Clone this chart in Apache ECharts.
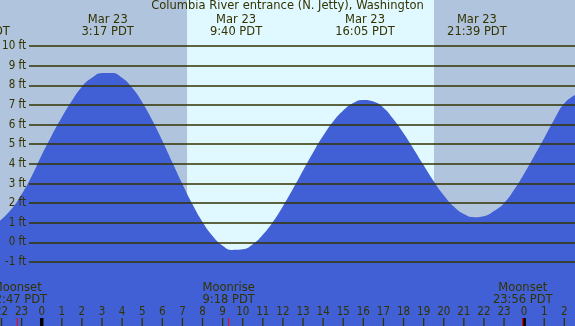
<!DOCTYPE html>
<html><head><meta charset="utf-8">
<script src="https://cdn.jsdelivr.net/npm/echarts@6/dist/echarts.min.js"></script>
<style>html,body{margin:0;padding:0;background:#b0c4de;overflow:hidden}#c{width:575px;height:326px}</style>
</head><body><div id="c"></div>
<script>
// ---- data ----
const titleText = 'Columbia River entrance (N. Jetty), Washington';
// hours relative to Mar 23 00:00 PDT, water level in ft
const tideHours = [-2.075,-1.5,-1.0,-0.5,0.0,0.5,1.0,1.5,2.0,2.5,3.0,3.5,4.0,4.5,5.0,5.5,6.0,6.5,7.0,7.5,8.0,8.5,9.0,9.5,10.0,10.5,11.0,11.5,12.0,12.5,13.0,13.5,14.0,14.5,15.0,15.5,16.0,16.5,17.0,17.5,18.0,18.5,19.0,19.5,20.0,20.5,21.0,21.5,22.0,22.5,23.0,23.5,24.0,24.5,25.0,25.5,26.0,26.53];
const tideFeet  = [1.10,1.70,2.45,3.37,4.45,5.45,6.37,7.21,7.93,8.38,8.62,8.63,8.38,7.87,7.14,6.22,5.18,4.07,2.97,1.94,1.04,0.33,-0.16,-0.38,-0.35,-0.09,0.39,1.04,1.84,2.73,3.66,4.58,5.43,6.16,6.72,7.10,7.25,7.17,6.86,6.27,5.56,4.76,3.93,3.12,2.41,1.83,1.45,1.29,1.34,1.60,2.00,2.68,3.50,4.40,5.32,6.26,7.08,7.50];
const extremeTimes  = [-3.07, 3.283, 9.667, 16.083, 21.65];
const extremeDates  = ['Mar 22','Mar 23','Mar 23','Mar 23','Mar 23'];
const extremeLabels = ['20:56 PDT','3:17 PDT','9:40 PDT','16:05 PDT','21:39 PDT'];
const ftLevels = [-1,0,1,2,3,4,5,6,7,8,9,10];
const ftLabels = ['-1 ft','0 ft','1 ft','2 ft','3 ft','4 ft','5 ft','6 ft','7 ft','8 ft','9 ft','10 ft'];
const hourTicks  = [-2,-1,0,1,2,3,4,5,6,7,8,9,10,11,12,13,14,15,16,17,18,19,20,21,22,23,24,25,26];
const hourLabels = ['22','23','0','1','2','3','4','5','6','7','8','9','10','11','12','13','14','15','16','17','18','19','20','21','22','23','0','1','2'];
const midnightHours = [0, 24];
const moonTimes  = [-1.217, 9.3, 23.933];
const moonEvents = ['Moonset','Moonrise','Moonset'];
const moonLabels = ['22:47 PDT','9:18 PDT','23:56 PDT'];
const sunriseHour = 7.23, sunsetHour = 19.52;

// ---- layout / style ----
const xMin = -2.075, xMax = 26.53, yMin = -4.25, yMax = 12.34;
const lineStartHour = -0.63;
const ink = '#333300';
const night = '#b0c4de', day = '#e0f8ff', water = '#4160d5';
const reg = '"DejaVu Sans", sans-serif';
const cond = '"DejaVu Sans Condensed", "DejaVu Sans", sans-serif';

const chart = echarts.init(document.getElementById('c'));
chart.setOption({
  animation:false,
  backgroundColor: night,
  title:{text:titleText,left:'center',top:0,padding:0,
    textStyle:{fontSize:11.5,fontWeight:'normal',color:ink,fontFamily:reg}},
  grid:{left:0,right:0,top:0,bottom:0,containLabel:false,outerBoundsMode:'none'},
  xAxis:{type:'value',min:xMin,max:xMax,show:false},
  yAxis:{type:'value',min:yMin,max:yMax,show:false},
  series:[{
    type:'line',z:2,smooth:true,showSymbol:false,
    data:tideHours.map((h,i)=>[h,tideFeet[i]]),
    lineStyle:{width:0},
    areaStyle:{color:water,opacity:1,origin:'start'},
    markArea:{silent:true,z:1,data:[
      [{xAxis:xMin,itemStyle:{color:night}},{xAxis:sunriseHour}],
      [{xAxis:sunriseHour,itemStyle:{color:day}},{xAxis:sunsetHour}],
      [{xAxis:sunsetHour,itemStyle:{color:night}},{xAxis:xMax}]
    ]},
    markLine:{silent:true,z:5,symbol:'none',
      lineStyle:{color:ink,width:1.5,type:'solid'},
      label:{show:true,position:'start',distance:3,color:ink,fontSize:11.5,fontFamily:cond,formatter:p=>p.name},
      data:ftLevels.map((v,i)=>[{coord:[lineStartHour,v],name:ftLabels[i]},{coord:[xMax,v]}])
    }
  }]
});

const px = h => chart.convertToPixel({xAxisIndex:0}, h);
const g = [];
extremeTimes.forEach((t,i)=>{
  g.push({type:'text',x:px(t),y:13.4,z:10,silent:true,
    style:{text:extremeDates[i]+'\n'+extremeLabels[i],align:'center',verticalAlign:'top',
      fill:ink,font:'11.5px '+reg,lineHeight:12.7}});
});
moonTimes.forEach((t,i)=>{
  g.push({type:'text',x:px(t),y:282.5,z:10,silent:true,
    style:{text:moonEvents[i]+'\n'+moonLabels[i],align:'center',verticalAlign:'top',
      fill:ink,font:'11.5px '+reg,lineHeight:11.8}});
});
hourTicks.forEach((h,i)=>{
  const x = px(h);
  g.push({type:'text',x:x,y:311.8,z:10,silent:true,
    style:{text:hourLabels[i],align:'center',verticalAlign:'middle',fill:ink,font:'11.5px '+cond}});
  g.push({type:'line',z:10,silent:true,shape:{x1:x,y1:318,x2:x,y2:326},style:{stroke:ink,lineWidth:1.3}});
});
midnightHours.forEach(h=>{
  const x = px(h);
  g.push({type:'line',z:11,silent:true,shape:{x1:x,y1:318,x2:x,y2:326},style:{stroke:'#000',lineWidth:3.5}});
});
moonTimes.forEach(t=>{
  const x = px(t);
  g.push({type:'line',z:12,silent:true,shape:{x1:x,y1:318,x2:x,y2:326},style:{stroke:'#ff0000',lineWidth:1}});
});
chart.setOption({graphic:g});
</script></body></html>
